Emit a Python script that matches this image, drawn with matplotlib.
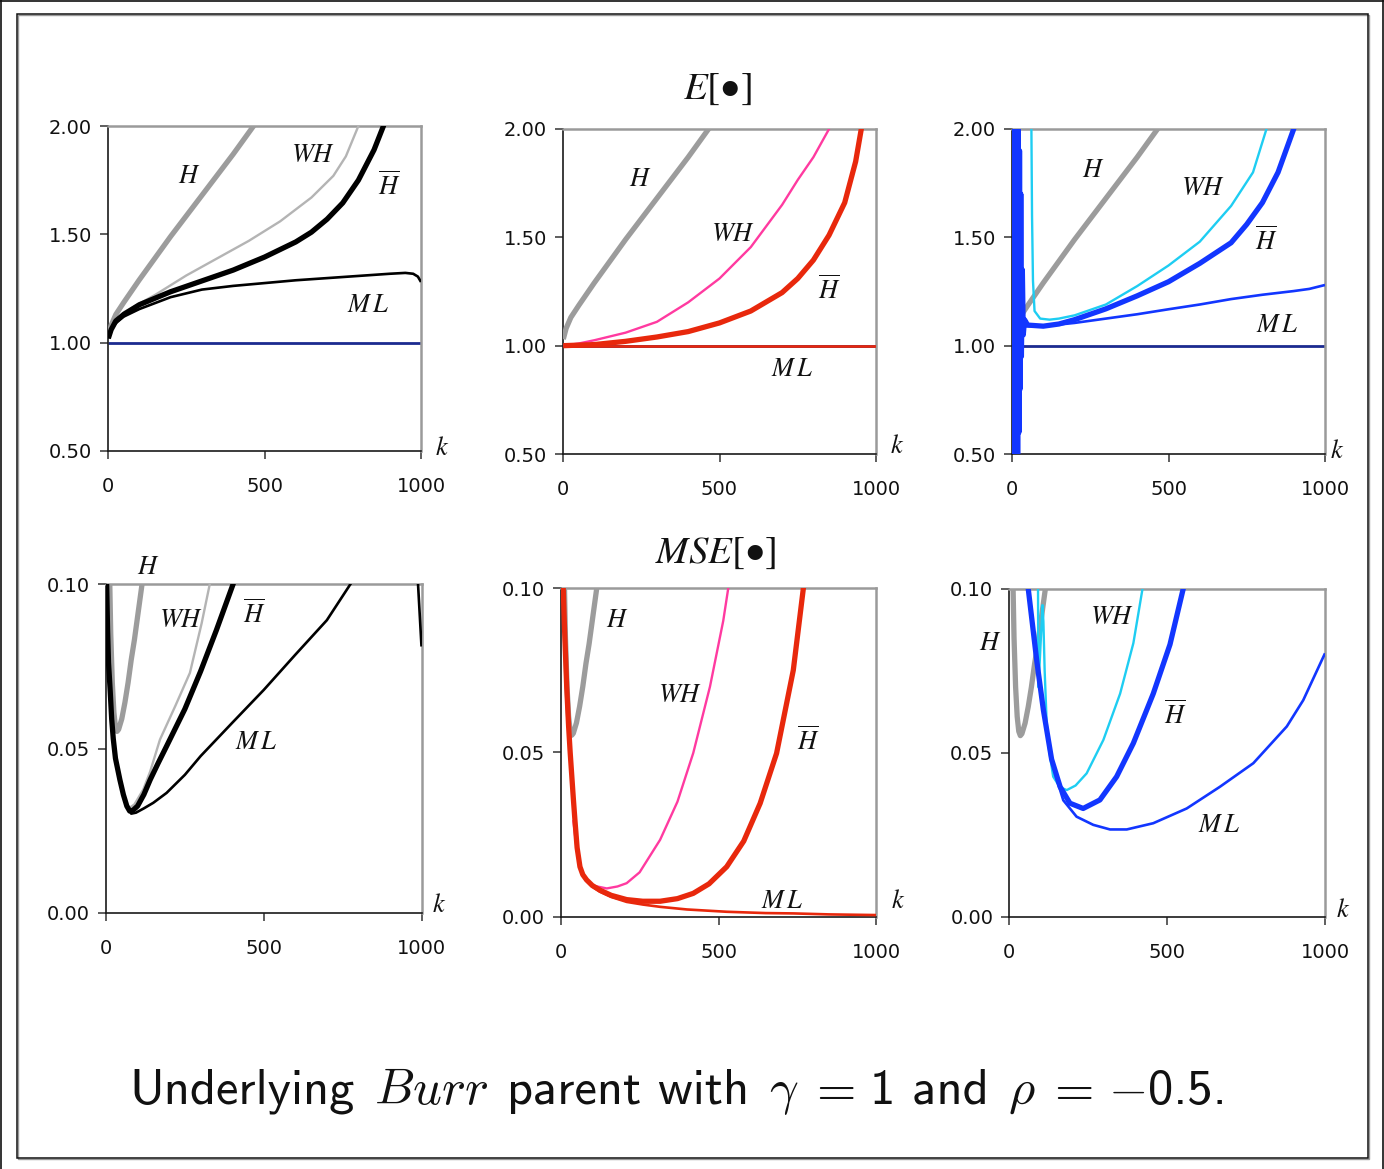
import matplotlib
matplotlib.use("Agg")
import matplotlib.pyplot as plt
from matplotlib.patches import Rectangle
from matplotlib.lines import Line2D

W, H = 1384, 1169
DPI = 100

# ---------------------------------------------------------------- data
XTICKS = [0, 500, 1000]
E_YTICKS = [0.50, 1.00, 1.50, 2.00]
MSE_YTICKS = [0.00, 0.05, 0.10]

# Hill estimator (same in every panel)
k_H_E = [1, 10, 25, 50, 100, 150, 200, 250, 300, 350, 400, 450, 480]
E_H = [1.03, 1.08, 1.13, 1.185, 1.29, 1.39, 1.49, 1.585, 1.68, 1.775, 1.87, 1.97, 2.03]
k_H_MSE = [5, 10, 15, 20, 25, 30, 35, 40, 50, 60, 70, 80, 90, 100, 110, 120]
MSE_H = [0.16, 0.11, 0.085, 0.070, 0.061, 0.0565, 0.0552, 0.0558, 0.059, 0.064,
         0.070, 0.077, 0.083, 0.090, 0.097, 0.104]

# reference value gamma = 1
k_ref = [0, 1000]
E_ref = [1.0, 1.0]

# --- left column
k_WH1 = [1, 25, 50, 100, 150, 250, 350, 450, 550, 650, 720, 760, 800, 815]
E_WH1 = [1.03, 1.10, 1.14, 1.18, 1.22, 1.31, 1.39, 1.47, 1.56, 1.67, 1.77, 1.86, 2.0, 2.06]
k_Hb1 = [1, 10, 25, 50, 100, 200, 300, 400, 500, 600, 650, 700, 750, 800, 850, 880, 890]
E_Hb1 = [1.02, 1.06, 1.10, 1.13, 1.175, 1.235, 1.285, 1.335, 1.395, 1.465, 1.51, 1.57,
         1.645, 1.75, 1.89, 2.0, 2.05]
k_ML1 = [1, 10, 25, 50, 100, 200, 300, 400, 500, 600, 700, 800, 900, 950, 975, 990, 1000]
E_ML1 = [1.02, 1.06, 1.09, 1.12, 1.155, 1.21, 1.245, 1.262, 1.275, 1.288, 1.298, 1.308,
         1.318, 1.322, 1.318, 1.305, 1.28]

k_ML4 = [1, 2, 5, 8, 13, 18, 23, 30, 44, 55, 66, 80, 95, 120, 150, 192, 250, 300, 400,
         500, 600, 700, 775, 850, 950, 989, 1000]
MSE_ML4 = [0.12, 0.10, 0.086, 0.076, 0.068, 0.059, 0.053, 0.047, 0.0405, 0.036, 0.0325,
           0.0302, 0.0305, 0.0318, 0.0335, 0.0365, 0.042, 0.0477, 0.0578, 0.0678, 0.0785,
           0.089, 0.10, 0.11, 0.115, 0.10, 0.081]
k_Hb4 = [1, 2, 5, 8, 13, 18, 23, 30, 44, 55, 66, 75, 85, 100, 120, 140, 165, 192, 250,
         300, 350, 403, 415]
MSE_Hb4 = [0.12, 0.10, 0.086, 0.076, 0.068, 0.059, 0.053, 0.047, 0.0405, 0.036, 0.0325,
           0.031, 0.0312, 0.0325, 0.036, 0.0405, 0.0455, 0.0507, 0.062, 0.0735, 0.086,
           0.10, 0.104]
k_WH4 = [30, 44, 55, 66, 75, 90, 118, 140, 171, 220, 266, 303, 329, 340]
MSE_WH4 = [0.047, 0.0405, 0.036, 0.033, 0.032, 0.033, 0.0375, 0.043, 0.0527, 0.063,
           0.073, 0.088, 0.10, 0.105]

# --- middle column
k_WH2 = [1, 50, 100, 200, 300, 400, 500, 600, 700, 750, 800, 850, 860]
E_WH2 = [1.0, 1.01, 1.025, 1.06, 1.11, 1.20, 1.31, 1.455, 1.65, 1.765, 1.87, 2.0, 2.03]
k_Hb2 = [1, 100, 200, 300, 400, 500, 600, 700, 750, 800, 850, 900, 935, 953, 960]
E_Hb2 = [1.0, 1.005, 1.02, 1.04, 1.065, 1.105, 1.16, 1.245, 1.31, 1.395, 1.51, 1.66,
         1.85, 2.0, 2.06]
k_ML2 = [1, 250, 500, 750, 1000]
E_ML2 = [1.0, 1.0, 1.0, 1.0, 1.0]

k_Hb5 = [5, 8, 12, 19, 25, 30, 35, 40, 45, 52, 61, 70, 82, 100, 124, 160, 209, 260, 315,
         370, 420, 470, 526, 580, 632, 684, 737, 769, 775]
MSE_Hb5 = [0.12, 0.10, 0.088, 0.070, 0.058, 0.050, 0.043, 0.036, 0.0295, 0.021, 0.0152,
           0.0128, 0.0112, 0.0095, 0.0081, 0.0065, 0.0052, 0.0047, 0.0047, 0.0055, 0.0071,
           0.0100, 0.0152, 0.023, 0.0345, 0.0497, 0.075, 0.10, 0.106]
k_ML5 = [5, 8, 12, 19, 25, 30, 35, 40, 45, 52, 61, 70, 82, 100, 124, 160, 209, 260, 315,
         400, 526, 650, 737, 850, 1000]
MSE_ML5 = [0.12, 0.10, 0.088, 0.070, 0.058, 0.050, 0.043, 0.036, 0.0295, 0.021, 0.0152,
           0.0128, 0.0110, 0.0092, 0.0076, 0.0060, 0.0045, 0.0037, 0.0030, 0.0022, 0.0015,
           0.0011, 0.0010, 0.0007, 0.0005]
k_WH5 = [40, 50, 61, 80, 100, 146, 180, 209, 250, 315, 370, 420, 473, 515, 531, 535]
MSE_WH5 = [0.0294, 0.021, 0.0152, 0.011, 0.0095, 0.0086, 0.0092, 0.0102, 0.0135, 0.0234,
           0.035, 0.0498, 0.070, 0.090, 0.10, 0.103]

# --- right column
k_WH3 = [58, 62, 64, 67, 72, 90, 120, 150, 200, 300, 400, 500, 600, 700, 770, 813, 825]
E_WH3 = [3.0, 2.0, 1.6, 1.3, 1.16, 1.125, 1.12, 1.125, 1.14, 1.19, 1.275, 1.37, 1.48,
         1.645, 1.80, 2.0, 2.08]
k_Hb3 = [1, 2, 4, 6, 8, 10, 12, 14, 16, 18, 20, 22, 24, 26, 28, 30, 33, 36, 40, 50, 100,
         150, 200, 300, 400, 500, 600, 700, 750, 800, 850, 900, 910]
E_Hb3 = [3.0, 0.1, 2.8, 0.2, 2.6, 0.3, 2.4, 0.4, 2.2, 0.45, 2.1, 0.6, 1.9, 0.8, 1.7, 0.95,
         1.35, 1.05, 1.12, 1.095, 1.09, 1.10, 1.12, 1.17, 1.23, 1.295, 1.38, 1.475, 1.56,
         1.66, 1.80, 2.0, 2.06]
k_ML3 = [30, 35, 50, 100, 200, 300, 400, 500, 600, 700, 800, 900, 950, 1000]
E_ML3 = [1.2, 1.10, 1.09, 1.09, 1.105, 1.125, 1.145, 1.168, 1.19, 1.215, 1.235, 1.252,
         1.262, 1.28]

k_Hb6 = [50, 60, 87, 108, 134, 161, 192, 234, 287, 340, 393, 456, 509, 551, 560]
MSE_Hb6 = [0.12, 0.10, 0.078, 0.063, 0.048, 0.0396, 0.0346, 0.033, 0.0356, 0.0427,
           0.0529, 0.068, 0.083, 0.10, 0.104]
k_ML6 = [50, 60, 87, 108, 134, 150, 171, 213, 266, 319, 372, 456, 562, 667, 773, 879,
         931, 1000]
MSE_ML6 = [0.12, 0.10, 0.078, 0.063, 0.048, 0.042, 0.0355, 0.0305, 0.028, 0.0266, 0.0266,
           0.0285, 0.033, 0.0396, 0.0468, 0.058, 0.066, 0.0803]
k_WH6 = [90, 92, 95, 100, 105, 108, 112, 118, 124, 139, 160, 182, 210, 245, 298, 351,
         393, 422, 430]
MSE_WH6 = [0.13, 0.07, 0.075, 0.085, 0.095, 0.09, 0.075, 0.06, 0.052, 0.0427, 0.0395,
           0.0386, 0.040, 0.0437, 0.0539, 0.068, 0.0834, 0.10, 0.105]

# ---------------------------------------------------------------- styles
GRAY_H = "#9c9c9c"
NAVY = "#1b2a8f"
THEMES = [
    dict(wh="#b4b4b4", main="#000000"),
    dict(wh="#ff3aa0", main="#e8280c"),
    dict(wh="#1ecdf2", main="#1236ff"),
]
LW_H, LW_WH, LW_HB, LW_ML = 3.8, 1.7, 3.8, 1.9

fig = plt.figure(figsize=(W / DPI, H / DPI), dpi=DPI)


def fx(x):
    return x / W


def fy(y):
    return 1 - y / H


def px_axes(l, r, t, b):
    return fig.add_axes([fx(l), fy(b), (r - l) / W, (b - t) / H])


def style(ax, ylim, yticks):
    ax.set_xlim(0, 1000)
    ax.set_ylim(*ylim)
    ax.set_xticks(XTICKS)
    ax.set_xticklabels([str(t) for t in XTICKS])
    ax.set_yticks(yticks)
    ax.set_yticklabels([f"{t:.2f}" for t in yticks])
    for s in ("top", "right"):
        ax.spines[s].set_color("#9a9a9a")
        ax.spines[s].set_linewidth(1.8)
    for s in ("left", "bottom"):
        ax.spines[s].set_color("#1a1a1a")
        ax.spines[s].set_linewidth(1.2)
    ax.tick_params(direction="out", length=5.5, width=1.1, color="#333333",
                   labelsize=14, labelcolor="#111111")
    ax.tick_params(axis="x", pad=13.5)
    ax.tick_params(axis="y", pad=6)
    ax.patch.set_alpha(0)


def plot(ax, k, v, color, lw, z):
    ax.plot(k, v, color=color, lw=lw, zorder=z, solid_capstyle="butt",
            solid_joinstyle="round")


def label(x, y, s, size=19):
    fig.text(fx(x), fy(y), s, ha="center", va="center", fontsize=size,
             math_fontfamily="stix", color="#111111")


# axes boxes in pixels: left, right, top, bottom
BOXES_E = [(108, 421, 126, 451), (563, 876, 129, 454), (1012, 1325, 129, 454)]
BOXES_M = [(106, 421.5, 584, 913), (560.7, 876.3, 588, 916.7), (1009.3, 1325, 588.7, 916.7)]

E_WH = [(k_WH1, E_WH1), (k_WH2, E_WH2), (k_WH3, E_WH3)]
E_HB = [(k_Hb1, E_Hb1), (k_Hb2, E_Hb2), (k_Hb3, E_Hb3)]
E_ML = [(k_ML1, E_ML1), (k_ML2, E_ML2), (k_ML3, E_ML3)]
M_WH = [(k_WH4, MSE_WH4), (k_WH5, MSE_WH5), (k_WH6, MSE_WH6)]
M_HB = [(k_Hb4, MSE_Hb4), (k_Hb5, MSE_Hb5), (k_Hb6, MSE_Hb6)]
M_ML = [(k_ML4, MSE_ML4), (k_ML5, MSE_ML5), (k_ML6, MSE_ML6)]

for i in range(3):
    th = THEMES[i]
    ax = px_axes(*BOXES_E[i])
    style(ax, (0.5, 2.0), E_YTICKS)
    plot(ax, k_ref, E_ref, NAVY, 2.0, 2)
    plot(ax, k_H_E, E_H, GRAY_H, LW_H, 3)
    plot(ax, *E_WH[i], th["wh"], LW_WH, 4)
    plot(ax, *E_HB[i], th["main"], LW_HB, 5)
    plot(ax, *E_ML[i], th["main"], LW_ML, 6)

    ax = px_axes(*BOXES_M[i])
    style(ax, (0.0, 0.1), MSE_YTICKS)
    plot(ax, k_H_MSE, MSE_H, GRAY_H, LW_H, 3)
    plot(ax, *M_WH[i], th["wh"], LW_WH, 4)
    plot(ax, *M_HB[i], th["main"], LW_HB, 5)
    plot(ax, *M_ML[i], th["main"], LW_ML, 6)

# curve names
HB = r"$\overline{H}$"
WH = r"$WH$"
ML = r"$M\,L$"
for x, y, s in [
    (189, 176, "$H$"), (313, 155, WH), (389, 186, HB), (368, 305, ML),
    (640, 179, "$H$"), (733, 234, WH), (829, 290, HB), (792, 369, ML),
    (1093, 170, "$H$"), (1203, 188, WH), (1266, 241, HB), (1277, 325, ML),
    (148, 567, "$H$"), (181, 620, WH), (254, 614, HB), (256, 742, ML),
    (617, 620, "$H$"), (680, 695, WH), (808, 741, HB), (782, 901, ML),
    (990, 643, "$H$"), (1112, 617, WH), (1175, 715, HB), (1219, 825, ML),
    (442, 448, "$k$"), (897, 446, "$k$"), (1337, 451, "$k$"),
    (439, 905, "$k$"), (898, 901, "$k$"), (1343, 910, "$k$"),
]:
    label(x, y, s)

# row titles
label(717, 88, "$E[\u2022]$", size=28)
label(716, 552, "$MSE[\u2022]$", size=28)

# caption: words in sans, symbols in math, laid out along one baseline
SANS = "cmss10"
caption = [
    ("Underlying", "t", 0.38), (r"$\mathit{Burr}$", "m", 0.38), ("parent with", "t", 0.38),
    (r"$\gamma$", "m", 0.2), ("$=$", "m", 0.28), ("1 and", "t", 0.38),
    (r"$\rho$", "m", 0.22), ("$=$", "m", 0.28), ("$-$", "m", 0.06), ("0.5.", "t", 0.0),
]
renderer = fig.canvas.get_renderer()


def layout_caption(size, draw):
    pieces = []
    for s, kind, gap in caption:
        kw = dict(fontsize=size, va="baseline", ha="left", color="#111111")
        if kind == "t":
            kw["family"] = SANS
        else:
            kw["math_fontfamily"] = "cm"
        pieces.append((fig.text(0, 0, s, **kw), gap))
    widths = [t.get_window_extent(renderer).width for t, _ in pieces]
    em = size * DPI / 72
    total = sum(widths) + sum(g * em for _, g in pieces[:-1])
    if not draw:
        for t, _ in pieces:
            t.remove()
        return total
    x = 678 - total / 2
    for (t, g), w in zip(pieces, widths):
        t.set_position((fx(x), fy(1104)))
        x += w + g * em
    return total


base = 30
size = base * 1100 / layout_caption(base, False)
layout_caption(size, True)

# slide frame with a soft shadow
fig.add_artist(Rectangle((fx(18.2), fy(1159.2)), (1368 - 17) / W, (1158 - 14) / H,
                         transform=fig.transFigure, fill=False, ec="#9a9a9a", lw=1.0))
fig.add_artist(Rectangle((fx(17), fy(1158)), (1368 - 17) / W, (1158 - 14) / H,
                         transform=fig.transFigure, fill=False, ec="#111111", lw=1.1))
for xs, ys in [([1.2, 1.2], [0, H]), ([0, W], [0.8, 0.8]), ([W - 1.5, W - 1.5], [0, H])]:
    fig.add_artist(Line2D([fx(v) for v in xs], [fy(v) for v in ys],
                          transform=fig.transFigure, color="#111111", lw=1.2))

fig.savefig("out.png", dpi=DPI)
